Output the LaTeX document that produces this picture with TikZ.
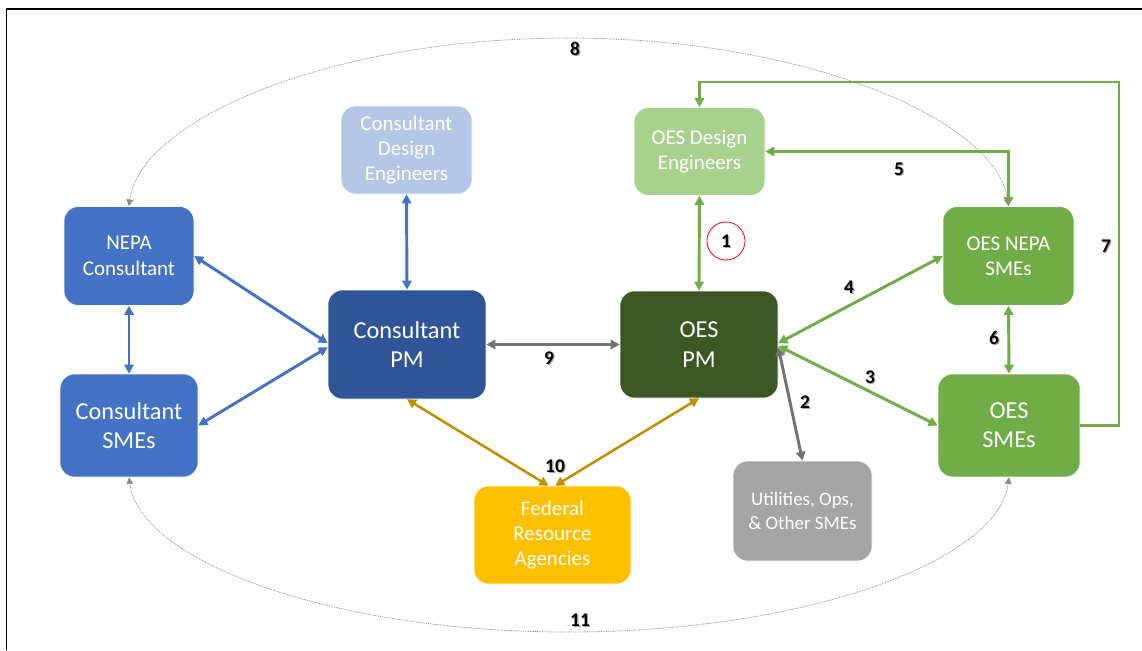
\documentclass[tikz,border=0pt]{standalone}
\usepackage{fontspec}
\setmainfont{Carlito}
\usetikzlibrary{arrows.meta}
\definecolor{cblue}{HTML}{4472C4}
\definecolor{cdblue}{HTML}{2F5597}
\definecolor{clblue}{HTML}{B4C7E7}
\definecolor{cgreen}{HTML}{70AD47}
\definecolor{clgreen}{HTML}{A9D18E}
\definecolor{cdgreen}{HTML}{3A5724}
\definecolor{cgold}{HTML}{FFC000}
\definecolor{cdgold}{HTML}{BF9000}
\definecolor{cgray}{HTML}{A5A5A5}
\definecolor{carrgray}{HTML}{767171}
\definecolor{cdot}{HTML}{8C8C8C}
\newcommand{\numlbl}[3]{\node[numsh] (#1s) at (#2) {#3}; \node[num] (#1) at (#2) {#3};}
\begin{document}
\begin{tikzpicture}[x=0.75pt,y=-0.75pt,
  box/.style={rounded corners=11pt, draw=white, line width=0.4pt, text=white, align=center, inner sep=2pt},
  big/.style={font=\fontsize{18.25}{22}\selectfont},
  med/.style={font=\fontsize{15.75}{19.1}\selectfont},
  sml/.style={font=\fontsize{14.25}{17.5}\selectfont},
  conn/.style={line width=2.2pt, {Triangle[length=6.8pt,width=7pt]}-{Triangle[length=6.8pt,width=7pt]}},
  conn1/.style={line width=2.2pt, -{Triangle[length=6.8pt,width=7pt]}},
  dotarc/.style={draw=cdot, line width=0.6pt, dash pattern=on 0.6pt off 0.7pt, {Triangle[length=5pt,width=5pt]}-{Triangle[length=5pt,width=5pt]}},
  num/.style={font=\fontsize{14.5}{16}\selectfont\bfseries, text=black, inner sep=0pt},
  numsh/.style={font=\fontsize{14.5}{16}\selectfont\bfseries, text=black!35, inner sep=0pt, xshift=1pt, yshift=-1pt}
]
\useasboundingbox (0,0) rectangle (1142,650);
% frame
\coordinate (ftr) at (1142,9);
\coordinate (ftl) at (6.5,9);
\coordinate (fbl) at (6.5,650);
\draw[line width=0.8pt, black] (ftr) -- (ftl) -- (fbl);

% boxes
\node[box, med, fill=cblue, minimum width=97.5pt, minimum height=74.25pt] (nepa) at (129,256) {NEPA\\Consultant};
\node[box, big, fill=cblue, minimum width=103.5pt, minimum height=77.25pt] (csme) at (129,425.5) {Consultant\\SMEs};
\node[box, med, fill=clblue, minimum width=98.25pt, minimum height=66pt] (cde) at (406.5,150) {Consultant\\Design\\Engineers};
\node[box, big, fill=cdblue, minimum width=118.5pt, minimum height=81.75pt] (cpm) at (407,344.5) {Consultant\\PM};
\node[box, med, fill=clgreen, minimum width=98.25pt, minimum height=66pt] (oesde) at (699.5,151.5) {OES Design\\Engineers};
\node[box, big, fill=cdgreen, minimum width=118.5pt, minimum height=80.25pt] (oespm) at (699,344.5) {OES\\PM};
\node[box, med, fill=cgreen, minimum width=98.25pt, minimum height=74.25pt] (oesnepa) at (1008.5,256) {OES NEPA\\SMEs};
\node[box, big, fill=cgreen, minimum width=106.5pt, minimum height=77.25pt] (oessme) at (1009,425.5) {OES\\SMEs};
\node[box, med, fill=cgold, minimum width=117.75pt, minimum height=73.5pt] (fed) at (552.5,535) {Federal\\Resource\\Agencies};
\node[box, sml, fill=cgray, minimum width=104.25pt, minimum height=75pt] (util) at (802.5,511) {Utilities, Ops,\\\& Other SMEs};

% blue connectors
\draw[conn, cblue] (nepa.east) -- ([yshift=1pt]cpm.west);
\draw[conn, cblue] (csme.east) -- ([yshift=-2pt]cpm.west);
\draw[conn, cblue] (nepa.south) -- (csme.north);
\draw[conn, cblue] (cde.south) -- (cpm.north);

% gray
\draw[conn, carrgray] (cpm.east) -- (oespm.west);
\draw[conn, carrgray] ([yshift=-2pt]oespm.east) -- (util.north);

% green
\draw[conn, cgreen] (oesde.south) -- (oespm.north);
\draw[conn, cgreen] ([yshift=1pt]oespm.east) -- (oesnepa.west);
\draw[conn, cgreen] ([yshift=-1pt]oespm.east) -- (oessme.west);
\draw[conn, cgreen] (oesnepa.south) -- (oessme.north);
\draw[conn, cgreen] (oesde.east) -| (oesnepa.north);
\coordinate (c7) at (1119,82);
\draw[conn1, cgreen] (oessme.east) -| (c7) -| (oesde.north);

% gold
\draw[conn, cdgold, line width=1.9pt] (cpm.south) -- ([xshift=-3pt]fed.north);
\draw[conn, cdgold, line width=1.9pt] (oespm.south) -- ([xshift=2pt]fed.north);

% dotted arcs
\coordinate (top8) at (568,38);
\coordinate (bot11) at (568,632);
\draw[dotarc] (nepa.north) .. controls (140,120) and (330,38) .. (top8) .. controls (806,38) and (997,120) .. (oesnepa.north);
\draw[dotarc] (csme.south) .. controls (140,561) and (330,632) .. (bot11) .. controls (806,632) and (998,561) .. (oessme.south);

% red circle
\node[circle, draw=red, line width=0.6pt, minimum size=28.5pt, inner sep=0pt] (circ1) at (726,241) {};

% labels
\numlbl{l1}{726,241}{1}
\numlbl{l2}{805,402}{2}
\numlbl{l3}{870,377}{3}
\numlbl{l4}{849,287}{4}
\numlbl{l5}{899,169}{5}
\numlbl{l6}{994,338}{6}
\numlbl{l7}{1106,246}{7}
\numlbl{l8}{575,49}{8}
\numlbl{l9}{549,358}{9}
\numlbl{l10}{555,466}{10}
\numlbl{l11}{580,620}{11}
\end{tikzpicture}
\end{document}
